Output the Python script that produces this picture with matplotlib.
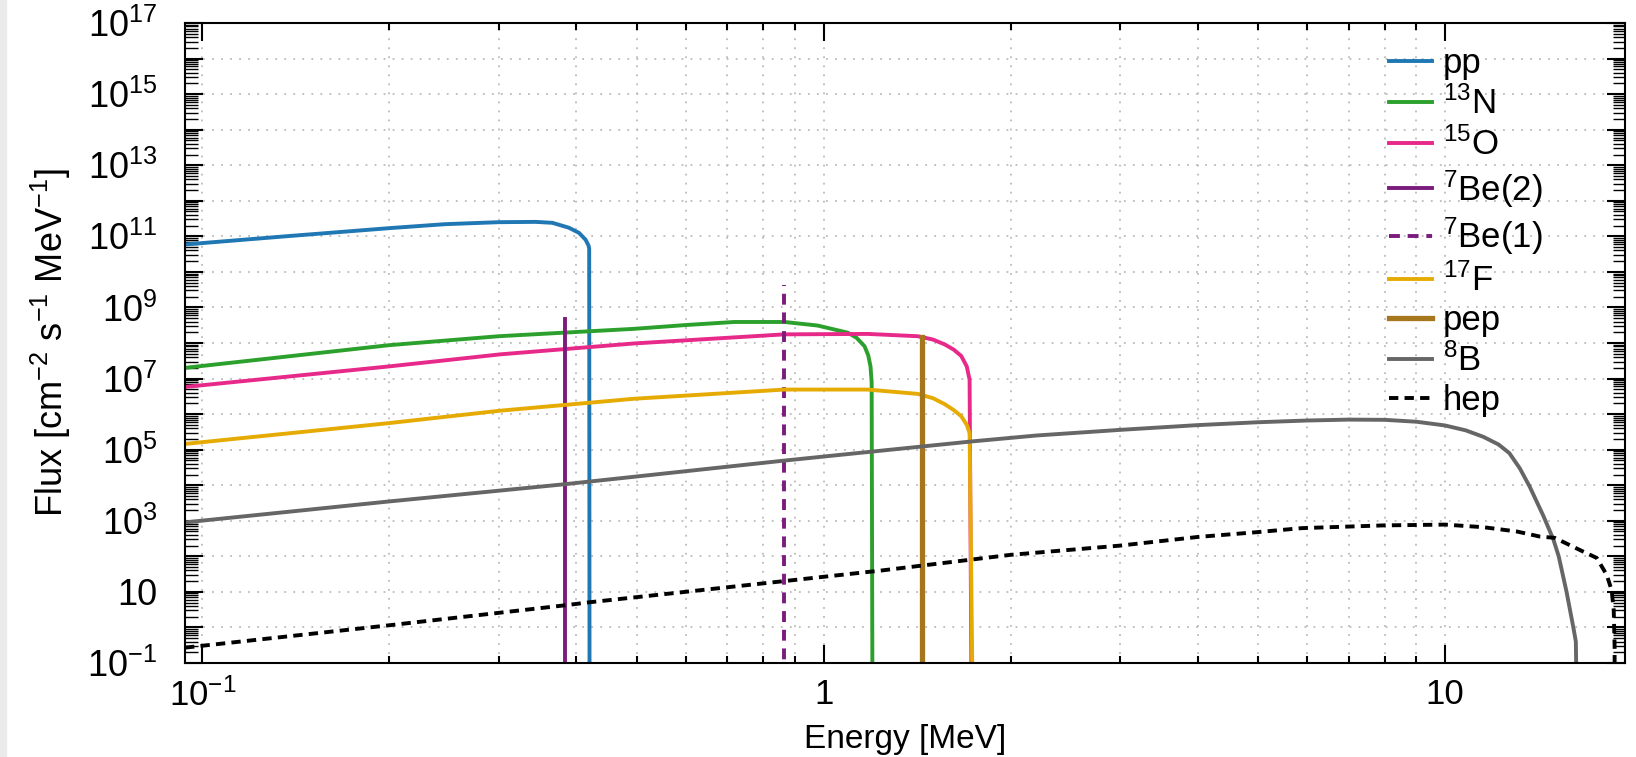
import matplotlib
matplotlib.use('Agg')
import matplotlib.pyplot as plt
import matplotlib.ticker as mticker
from matplotlib.patches import Rectangle
import numpy as np

plt.rcParams['font.family'] = ['Liberation Sans', 'DejaVu Sans']
plt.rcParams['mathtext.fontset'] = 'custom'
plt.rcParams['mathtext.rm'] = 'Liberation Sans'
plt.rcParams['mathtext.it'] = 'Liberation Sans:italic'
plt.rcParams['mathtext.bf'] = 'Liberation Sans:bold'

# Datos (E en MeV, flujo en cm^-2 s^-1 MeV^-1)
pp_E = [0.0938, 0.136, 0.2, 0.246, 0.3, 0.344, 0.366, 0.389, 0.404, 0.414, 0.4185, 0.4195, 0.4201]
pp_F = [5.9e10, 1.0e11, 1.7e11, 2.2e11, 2.5e11, 2.55e11, 2.4e11, 1.75e11, 1.25e11, 8e10, 5.5e10, 4.5e10, 1e-3]

n13_E = [0.0938, 0.2, 0.3, 0.495, 0.6, 0.718, 0.865, 0.978, 1.094, 1.13, 1.164, 1.18, 1.19, 1.195, 1.199]
n13_F = [2.0e7, 8.7e7, 1.55e8, 2.5e8, 3.2e8, 3.9e8, 3.9e8, 3.1e8, 1.95e8, 1.4e8, 8.1e7, 4.5e7, 2.2e7, 8e6, 1e-3]

o15_E = [0.0938, 0.2, 0.302, 0.495, 0.865, 1.178, 1.418, 1.5, 1.567, 1.62, 1.666, 1.7, 1.718, 1.732]
o15_F = [5.8e6, 2.2e7, 4.8e7, 9.7e7, 1.75e8, 1.8e8, 1.55e8, 1.25e8, 9.1e7, 6.5e7, 4.3e7, 2.2e7, 9.3e6, 1e-3]

f17_E = [0.0938, 0.2, 0.302, 0.495, 0.865, 1.178, 1.418, 1.5, 1.567, 1.62, 1.666, 1.7, 1.718, 1.74]
f17_F = [1.45e5, 5.6e5, 1.25e6, 2.7e6, 4.9e6, 4.9e6, 3.7e6, 2.8e6, 1.9e6, 1.3e6, 8.7e5, 5e5, 2.9e5, 1e-3]

be7_E = [0.384, 0.862]
be7_F = [4.8e8, 4.4e9]

pep_E = 1.442
pep_F = 1.45e8

b8_E = [0.0938, 0.2, 0.384, 0.862, 1.24, 1.73, 2.2, 3.0, 4.0, 5.0, 6.0, 7.0, 8.0, 9.0, 10.0,
        10.8, 11.53, 12.2, 12.7, 13.2, 13.7, 14.4, 14.95, 15.25, 15.7, 16.1, 16.25, 16.33]
b8_F = [9.0e2, 3.5e3, 1.07e4, 4.9e4, 9.4e4, 1.7e5, 2.5e5, 3.6e5, 4.9e5, 5.9e5, 6.6e5, 7.0e5, 6.9e5, 6.1e5, 4.8e5,
        3.5e5, 2.3e5, 1.4e5, 8.0e4, 3.0e4, 9.0e3, 1.4e3, 3.0e2, 1.0e2, 10, 1.0, 0.4, 1e-3]

hep_E = [0.0938, 0.2, 0.384, 0.42, 0.862, 1.24, 2.0, 3.0, 4.0, 5.0, 5.88, 7.95, 10.0, 11.53, 13.05, 14.22,
         15.03, 16.5, 17.56, 18.22, 18.56, 18.7, 18.76, 18.77]
hep_F = [0.27, 1.15, 4.2, 5.1, 20, 40, 110, 2.0e2, 3.5e2, 4.8e2, 6.2e2, 7.4e2, 7.8e2, 6.6e2, 5.0e2, 3.6e2,
         3.3e2, 1.5e2, 90, 30, 11, 3, 0.3, 1e-3]

# Colores
c_pp = '#1f77b4'
c_n13 = '#2ca02c'
c_o15 = '#e7298a'
c_be7 = '#7b1c7d'
c_f17 = '#e6ab02'
c_pep = '#a6761d'
c_b8 = '#666666'

lw = 2.8
fig = plt.figure(figsize=(16.36, 7.57), dpi=100)
fig.patches.append(Rectangle((0, 0), 6 / 1636, 1, transform=fig.transFigure,
                             color='#ebebeb', zorder=-10))
ax = fig.add_axes([0.1131, 0.1242, 0.8802, 0.8454])

ax.plot(pp_E, pp_F, color=c_pp, lw=lw, label='pp')
ax.plot(n13_E, n13_F, color=c_n13, lw=lw, label=r'$^{13}$N')
ax.plot(o15_E, o15_F, color=c_o15, lw=lw, label=r'$^{15}$O')
ax.plot([be7_E[0], be7_E[0]], [1e-3, be7_F[0]], color=c_be7, lw=lw, label=r'$^{7}$Be(2)')
ax.plot([be7_E[1], be7_E[1]], [1e-3, be7_F[1]], color=c_be7, lw=lw, dashes=(2.8, 2.0),
        label=r'$^{7}$Be(1)')
ax.plot(f17_E, f17_F, color=c_f17, lw=lw, label=r'$^{17}$F')
ax.plot([pep_E, pep_E], [1e-3, pep_F], color=c_pep, lw=3.8, label='pep')
ax.plot(b8_E, b8_F, color=c_b8, lw=lw, label=r'$^{8}$B')
ax.plot(hep_E, hep_F, color='black', lw=lw, dashes=(2.4, 1.6), label='hep')

ax.set_xscale('log')
ax.set_yscale('log')
ax.set_xlim(0.0938, 19.5)
ax.set_ylim(1e-1, 1e17)

# Ticks x
ax.xaxis.set_major_locator(mticker.FixedLocator([0.1, 1, 10]))
ax.xaxis.set_major_formatter(mticker.FixedFormatter([r'$10^{-1}$', '1', '10']))
ax.xaxis.set_minor_locator(mticker.LogLocator(base=10, subs=np.arange(2, 10), numticks=50))
ax.xaxis.set_minor_formatter(mticker.NullFormatter())

# Ticks y
exps = list(range(-1, 18))
def etiqueta_y(v, pos):
    e = int(round(np.log10(v)))
    if e % 2 == 0:
        return ''
    if e == 1:
        return '10'
    return r'$10^{%d}$' % e
ax.yaxis.set_major_locator(mticker.FixedLocator([10.0 ** e for e in exps]))
ax.yaxis.set_major_formatter(mticker.FuncFormatter(etiqueta_y))
ax.yaxis.set_minor_locator(mticker.LogLocator(base=10, subs=np.arange(2, 10), numticks=100))
ax.yaxis.set_minor_formatter(mticker.NullFormatter())

ax.tick_params(which='both', direction='in', top=True, right=True, labelsize=26, width=1.5)
ax.tick_params(axis='x', which='major', length=13, pad=11, labelsize=25)
ax.tick_params(axis='x', which='minor', length=5)
ax.tick_params(axis='y', which='major', length=13, pad=20)
ax.tick_params(axis='y', which='minor', length=9, width=1.0)

for s in ax.spines.values():
    s.set_linewidth(1.5)

ax.grid(which='major', axis='both', color='#bbbbbb', linestyle=(0, (1, 4)), lw=1.3)
ax.grid(which='minor', axis='x', color='#bbbbbb', linestyle=(0, (1, 4)), lw=1.3)

ax.set_xlabel('Energy [MeV]', fontsize=24, va='bottom')
ax.xaxis.set_label_coords(0.5, -0.1445)
ax.set_ylabel(r'Flux [cm$^{-2}$ s$^{-1}$ MeV$^{-1}$]', fontsize=26, labelpad=10)

ax.legend(loc='upper left', bbox_to_anchor=(0.836, 0.962), frameon=False, fontsize=25,
          handlelength=1.25, handletextpad=0.3, labelspacing=0.18, borderpad=0,
          borderaxespad=0)

fig.savefig('out.png', dpi=100)
